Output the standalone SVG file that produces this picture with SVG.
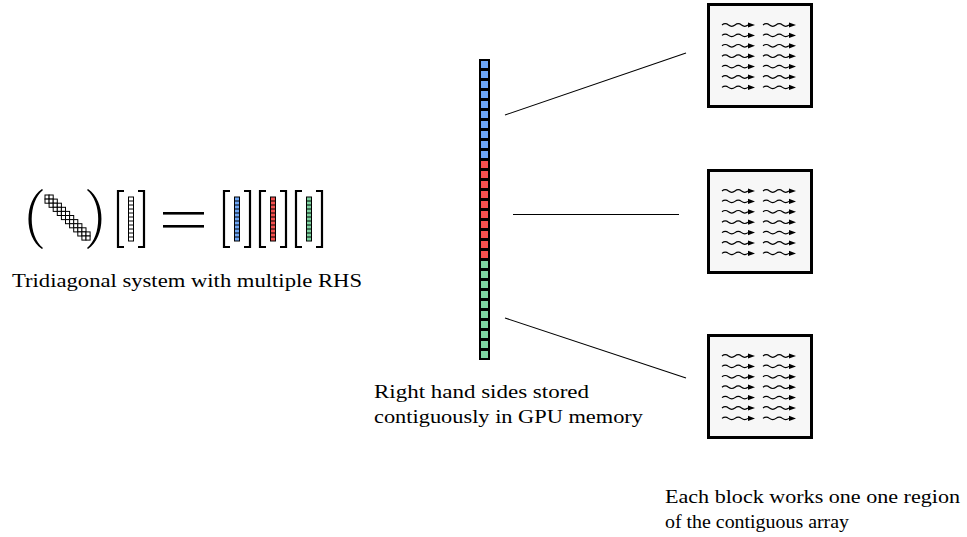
<svg xmlns="http://www.w3.org/2000/svg" xmlns:xlink="http://www.w3.org/1999/xlink" width="967" height="537" viewBox="0 0 967 537">
  <style>
    .brk { fill: none; stroke: #000; stroke-width: 2.2; stroke-linecap: butt; stroke-linejoin: miter; }
    .vec { stroke: #000; stroke-width: 1; }
    .blk { fill: #f7f7f7; stroke: #000; stroke-width: 3; }
    .conn { stroke: #000; stroke-width: 1.1; fill: none; }
    .dc { fill: #fff; stroke: #000; stroke-width: 1; }
    .wave { fill: none; stroke: #000; stroke-width: 1.2; }
  </style>
  <defs>
    <!-- one tridiagonal band cell -->
    <rect id="dc" class="dc" width="4.1" height="4.1"/>
    <!-- cell separators of a small column vector -->
    <path id="vlines" d="M0 4h5M0 8h5M0 12h5M0 16h5M0 20h5M0 24h5M0 28h5M0 32h5M0 36h5M0 40h5" stroke="#000" stroke-width="1"/>
    <!-- one thread: squiggle with arrowhead -->
    <g id="wv">
      <path class="wave" d="M0 0q3.25 -2.6 6.5 0t6.5 0t6.5 0t6.5 0"/>
      <polygon points="26,-2.6 33,0 26,2.6" fill="#000"/>
    </g>
    <!-- 2 x 7 threads inside a block -->
    <g id="threads">
      <use xlink:href="#wv" x="0" y="0"/><use xlink:href="#wv" x="41" y="0"/>
      <use xlink:href="#wv" x="0" y="10.4"/><use xlink:href="#wv" x="41" y="10.4"/>
      <use xlink:href="#wv" x="0" y="20.8"/><use xlink:href="#wv" x="41" y="20.8"/>
      <use xlink:href="#wv" x="0" y="31.2"/><use xlink:href="#wv" x="41" y="31.2"/>
      <use xlink:href="#wv" x="0" y="41.6"/><use xlink:href="#wv" x="41" y="41.6"/>
      <use xlink:href="#wv" x="0" y="52"/><use xlink:href="#wv" x="41" y="52"/>
      <use xlink:href="#wv" x="0" y="62.4"/><use xlink:href="#wv" x="41" y="62.4"/>
    </g>
  </defs>

  <!-- equation: tridiagonal matrix times x equals several RHS -->
  <g id="equation">
    <path d="M42 189C24 201 24 237 42 249L43 248C28 236 28 202 43 190Z" fill="#000"/>
    <path d="M88 189C106 201 106 237 88 249L87 248C102 236 102 202 87 190Z" fill="#000"/>
    <g id="band">
      <use xlink:href="#dc" x="45" y="195"/><use xlink:href="#dc" x="49.1" y="195"/>
      <use xlink:href="#dc" x="45" y="199.1"/><use xlink:href="#dc" x="49.1" y="199.1"/><use xlink:href="#dc" x="53.2" y="199.1"/>
      <use xlink:href="#dc" x="49.1" y="203.2"/><use xlink:href="#dc" x="53.2" y="203.2"/><use xlink:href="#dc" x="57.3" y="203.2"/>
      <use xlink:href="#dc" x="53.2" y="207.3"/><use xlink:href="#dc" x="57.3" y="207.3"/><use xlink:href="#dc" x="61.4" y="207.3"/>
      <use xlink:href="#dc" x="57.3" y="211.4"/><use xlink:href="#dc" x="61.4" y="211.4"/><use xlink:href="#dc" x="65.5" y="211.4"/>
      <use xlink:href="#dc" x="61.4" y="215.5"/><use xlink:href="#dc" x="65.5" y="215.5"/><use xlink:href="#dc" x="69.6" y="215.5"/>
      <use xlink:href="#dc" x="65.5" y="219.6"/><use xlink:href="#dc" x="69.6" y="219.6"/><use xlink:href="#dc" x="73.7" y="219.6"/>
      <use xlink:href="#dc" x="69.6" y="223.7"/><use xlink:href="#dc" x="73.7" y="223.7"/><use xlink:href="#dc" x="77.8" y="223.7"/>
      <use xlink:href="#dc" x="73.7" y="227.8"/><use xlink:href="#dc" x="77.8" y="227.8"/><use xlink:href="#dc" x="81.9" y="227.8"/>
      <use xlink:href="#dc" x="77.8" y="231.9"/><use xlink:href="#dc" x="81.9" y="231.9"/><use xlink:href="#dc" x="86" y="231.9"/>
      <use xlink:href="#dc" x="81.9" y="236"/><use xlink:href="#dc" x="86" y="236"/>
    </g>
    <!-- unknown vector -->
    <path class="brk" d="M124 191H118V247H124"/>
    <path class="brk" d="M138 191H144V247H138"/>
    <rect class="vec" x="128.5" y="197" width="5" height="44" fill="#fff"/>
    <use xlink:href="#vlines" x="128.5" y="197"/>
    <!-- equals sign -->
    <rect x="163" y="212" width="41" height="2.6" fill="#000"/>
    <rect x="163" y="225" width="41" height="2.6" fill="#000"/>
    <!-- right hand sides -->
    <path class="brk" d="M230 191H224V247H230"/>
    <path class="brk" d="M244 191H250V247H244"/>
    <rect class="vec" x="234.5" y="197" width="5" height="44" fill="#6ea6f5"/>
    <use xlink:href="#vlines" x="234.5" y="197"/>
    <path class="brk" d="M266 191H260V247H266"/>
    <path class="brk" d="M280 191H286V247H280"/>
    <rect class="vec" x="270.5" y="197" width="5" height="44" fill="#f4504f"/>
    <use xlink:href="#vlines" x="270.5" y="197"/>
    <path class="brk" d="M302 191H296V247H302"/>
    <path class="brk" d="M316 191H322V247H316"/>
    <rect class="vec" x="306.5" y="197" width="5" height="44" fill="#7dd3a0"/>
    <use xlink:href="#vlines" x="306.5" y="197"/>
  </g>

  <!-- contiguous RHS array -->
  <g id="rhs-array">
    <rect x="479" y="59" width="11" height="301" fill="#000"/>
    <g fill="#6ea6f5">
      <rect x="481" y="61" width="7" height="7"/><rect x="481" y="71" width="7" height="7"/>
      <rect x="481" y="81" width="7" height="7"/><rect x="481" y="91" width="7" height="7"/>
      <rect x="481" y="101" width="7" height="7"/><rect x="481" y="111" width="7" height="7"/>
      <rect x="481" y="121" width="7" height="7"/><rect x="481" y="131" width="7" height="7"/>
      <rect x="481" y="141" width="7" height="7"/><rect x="481" y="151" width="7" height="7"/>
    </g>
    <g fill="#f4504f">
      <rect x="481" y="161" width="7" height="7"/><rect x="481" y="171" width="7" height="7"/>
      <rect x="481" y="181" width="7" height="7"/><rect x="481" y="191" width="7" height="7"/>
      <rect x="481" y="201" width="7" height="7"/><rect x="481" y="211" width="7" height="7"/>
      <rect x="481" y="221" width="7" height="7"/><rect x="481" y="231" width="7" height="7"/>
      <rect x="481" y="241" width="7" height="7"/><rect x="481" y="251" width="7" height="7"/>
    </g>
    <g fill="#7dd3a0">
      <rect x="481" y="261" width="7" height="7"/><rect x="481" y="271" width="7" height="7"/>
      <rect x="481" y="281" width="7" height="7"/><rect x="481" y="291" width="7" height="7"/>
      <rect x="481" y="301" width="7" height="7"/><rect x="481" y="311" width="7" height="7"/>
      <rect x="481" y="321" width="7" height="7"/><rect x="481" y="331" width="7" height="7"/>
      <rect x="481" y="341" width="7" height="7"/><rect x="481" y="351" width="7" height="7"/>
    </g>
  </g>

  <!-- connectors from array regions to blocks -->
  <g id="connectors">
    <line class="conn" x1="505" y1="115" x2="686" y2="53"/>
    <line class="conn" x1="513" y1="214.5" x2="679" y2="214.5"/>
    <line class="conn" x1="505" y1="318" x2="686" y2="378"/>
  </g>

  <!-- thread blocks -->
  <g id="block-1">
    <rect class="blk" x="708.5" y="4.5" width="103" height="102"/>
    <use xlink:href="#threads" x="722" y="25"/>
  </g>
  <g id="block-2">
    <rect class="blk" x="708.5" y="170.5" width="103" height="102"/>
    <use xlink:href="#threads" x="722" y="191"/>
  </g>
  <g id="block-3">
    <rect class="blk" x="708.5" y="335.5" width="103" height="102"/>
    <use xlink:href="#threads" x="722" y="356"/>
  </g>

  <!-- captions -->
  <g font-family="'Liberation Serif', serif" font-size="19" fill="#000">
    <text x="12" y="287" textLength="350" lengthAdjust="spacingAndGlyphs">Tridiagonal system with multiple RHS</text>
    <text x="374" y="398" textLength="215" lengthAdjust="spacingAndGlyphs">Right hand sides stored</text>
    <text x="374" y="423" textLength="269" lengthAdjust="spacingAndGlyphs">contiguously in GPU memory</text>
    <text x="665" y="503" textLength="295" lengthAdjust="spacingAndGlyphs">Each block works one one region</text>
    <text x="665" y="528" textLength="184" lengthAdjust="spacingAndGlyphs">of the contiguous array</text>
  </g>
</svg>
